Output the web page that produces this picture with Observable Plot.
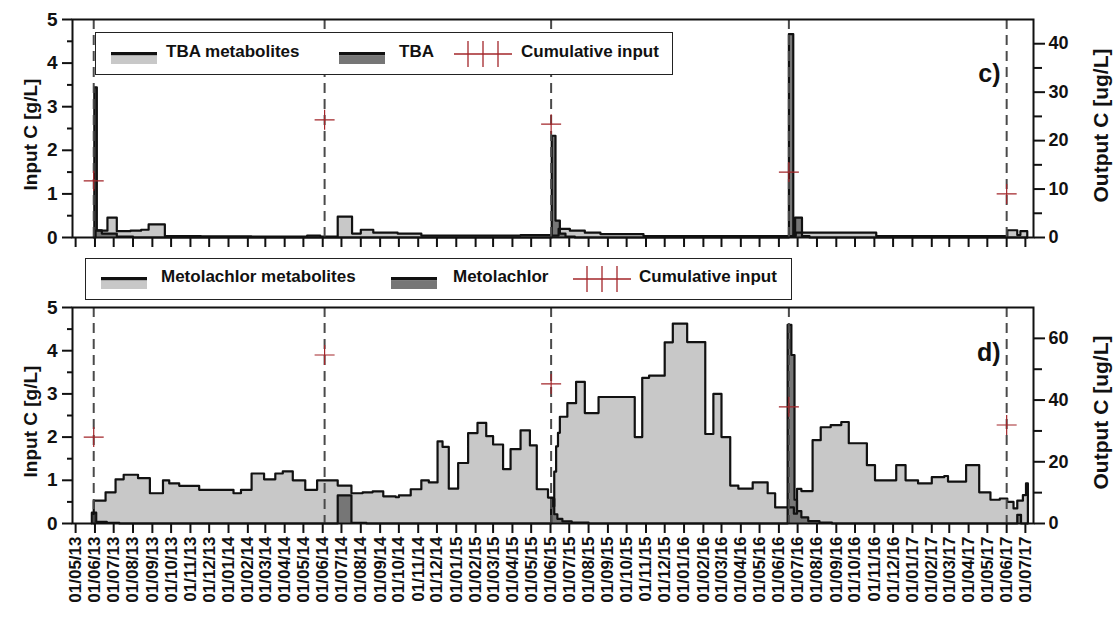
<!DOCTYPE html>
<html><head><meta charset="utf-8">
<script src="https://cdn.jsdelivr.net/npm/d3@7"></script>
<script src="https://cdn.jsdelivr.net/npm/@observablehq/plot@0.6"></script>
<style>
body{margin:0;background:#fff;font-family:"Liberation Sans",Arial,sans-serif;}
#wrap{position:relative;width:1114px;height:620px;overflow:hidden;}
#top,#bottom{position:absolute;left:0;}
#top{top:0}
#bottom{top:255px}
.legend{position:absolute;border:1.5px solid #222;background:#fff;box-sizing:border-box;font-weight:bold;font-size:17px;color:#111;z-index:5}
.legend .it{position:absolute;white-space:nowrap;line-height:1}
</style></head>
<body><div id="wrap"><div id="top"></div><div id="bottom"></div></div>
<script>
// ---------- data ----------
const xDomain = ["2013-04-26", "2017-07-14"];
const applicationDates = ["2013-05-30", "2014-06-04", "2015-06-02", "2016-06-17", "2017-06-01"];
const tbaCumInput = [1.3, 2.7, 2.6, 1.5, 1.0];          // g/L
const metCumInput = [2.0, 3.9, 3.23, 2.7, 2.28];        // g/L

// TBA metabolites, ug/L (step values starting at each date)
const tbaMetDates = ["2013-06-02","2013-06-21","2013-07-06","2013-07-28","2013-08-14","2013-08-26","2013-09-21","2013-11-18","2014-02-07","2014-05-07","2014-05-28","2014-06-25","2014-07-18","2014-08-01","2014-08-21","2014-09-29","2014-11-06","2015-04-14","2015-06-02","2015-06-14","2015-07-02","2015-07-26","2015-08-20","2015-10-28","2016-06-17","2016-06-28","2016-11-04","2017-06-02","2017-06-18","2017-06-23","2017-07-04"];
const tbaMetValues = [1.4,4.1,1.3,1.4,1.6,2.7,0.3,0.25,0.2,0.4,0.2,4.3,0.8,1.6,1.0,0.8,0.4,0.5,0.4,1.8,1.4,1.0,0.7,0.3,0.3,1.0,0.3,1.5,0.5,1.3,1.3];

// TBA parent, ug/L
const tbaParDates = ["2013-05-30","2013-05-31","2013-06-04","2013-06-12","2013-07-06","2013-08-01","2015-06-02","2015-06-03","2015-06-09","2015-06-16","2015-06-25","2015-07-10","2016-06-16","2016-06-17","2016-06-24","2016-06-27","2016-07-08","2016-07-20","2017-06-01","2017-07-04"];
const tbaParValues = [0,31,1.5,0.8,0.2,0,0,21,3.5,0.8,0.2,0,0,42,0.5,4.1,0.3,0,0,0];

// Metolachlor metabolites, ug/L
const metMetDates = ["2013-05-30","2013-06-18","2013-07-04","2013-07-17","2013-08-09","2013-08-28","2013-09-18","2013-09-28","2013-10-14","2013-11-15","2014-01-09","2014-01-21","2014-02-07","2014-02-27","2014-03-17","2014-03-29","2014-04-14","2014-05-04","2014-05-23","2014-06-25","2014-07-17","2014-08-04","2014-08-20","2014-09-06","2014-09-26","2014-10-01","2014-10-20","2014-11-06","2014-11-18","2014-12-02","2014-12-10","2014-12-20","2015-01-04","2015-01-20","2015-02-04","2015-02-18","2015-03-01","2015-03-17","2015-03-29","2015-04-14","2015-04-29","2015-05-10","2015-05-28","2015-06-04","2015-06-07","2015-06-10","2015-06-13","2015-06-16","2015-06-28","2015-07-12","2015-07-26","2015-08-17","2015-10-14","2015-10-26","2015-11-06","2015-12-01","2015-12-14","2016-01-06","2016-02-04","2016-02-17","2016-03-01","2016-03-15","2016-03-28","2016-04-20","2016-05-14","2016-05-26","2016-06-25","2016-06-30","2016-07-07","2016-07-25","2016-08-07","2016-08-23","2016-09-09","2016-09-21","2016-10-20","2016-11-02","2016-12-06","2016-12-21","2017-01-10","2017-02-01","2017-02-21","2017-02-27","2017-03-28","2017-04-18","2017-05-06","2017-05-21","2017-06-02","2017-06-12","2017-06-18","2017-06-27","2017-07-02","2017-07-05"];
const metMetValues = [7.4,10.1,14.3,15.8,14.7,9.8,14,13,12.2,10.9,9.8,10.9,16.2,14.3,16.2,16.9,14,10.9,14,12.3,9.8,10.1,10.4,8.8,8.5,9.1,11.1,14,13.3,26.6,24.8,11.3,19.6,29.3,32.6,28.3,25.6,17.6,24.1,30.2,25.3,11.1,8.4,5.6,16.8,25,29.4,34.6,39,45.9,35.8,41,28,47.2,47.9,58.7,64.8,58.8,29,42,28,12.3,11.3,13.3,9.8,5.2,3.2,11.2,10.5,27,31.2,31.9,32.9,26,18.9,14,18.9,14,13,15,15.4,13.6,18.9,10.1,7.7,8.1,7,4.9,7.4,9.2,13,13];

// Metolachlor parent, ug/L
const metParDates = ["2013-05-27","2013-06-03","2013-06-20","2013-07-10","2014-06-25","2014-07-17","2014-08-10","2015-06-02","2015-06-07","2015-06-12","2015-06-20","2015-07-05","2015-08-01","2016-06-15","2016-06-21","2016-06-26","2016-06-30","2016-07-07","2016-07-18","2016-08-05","2016-08-25","2017-06-18","2017-06-24","2017-07-04"];
const metParValues = [3.5,0.5,0.2,0,9.1,0.2,0,8,3,1.5,0.7,0.3,0,64.4,54.6,7.7,4,2,0.8,0.3,0,2.8,0,0];

const leftTicks = [0, 1, 2, 3, 4, 5];
const leftMinor = [0.5, 1.5, 2.5, 3.5, 4.5];
const topRightTicks = [0, 10, 20, 30, 40];
const topRightMinor = [5, 15, 25, 35];
const botRightTicks = [0, 20, 40, 60];
const botRightMinor = [10, 30, 50];
const TOP_K = 9;   // 45 ug/L on the right = 5 g/L on the left
const BOT_K = 14;  // 70 ug/L on the right = 5 g/L on the left

// ---------- helpers ----------
const toDate = s => new Date(s + "T00:00:00Z");
function series(dates, values) {
  const s = dates.map((d, i) => ({date: toDate(d), v: values[i]}));
  return [{date: s[0].date, v: 0}, ...s, {date: s[s.length - 1].date, v: 0}];
}
const monthTicks = d3.utcMonth.range(toDate("2013-05-01"), toDate("2017-07-02"));
const cross = {draw(ctx, size) { const r = Math.sqrt(size / Math.PI); ctx.moveTo(-r, 0); ctx.lineTo(r, 0); ctx.moveTo(0, -r); ctx.lineTo(0, r); }};
const FONT = "'Liberation Sans', Arial, sans-serif";
const MET_FILL = "#c8c8c8", PAR_FILL = "#767676", RED = "#a3262a";

function panel({met, par, K, cum, rightTicks, rightMinor, height, marginTop, marginBottom, showLabels, tag, tagDy}) {
  const app = applicationDates.map(toDate);
  const cumData = app.map((d, i) => ({date: d, v: cum[i]}));
  return Plot.plot({
    width: 1114, height, marginLeft: 72, marginRight: 81, marginTop, marginBottom,
    style: {fontFamily: FONT, fontWeight: "bold", color: "#111", background: "transparent"},
    x: {type: "utc", domain: xDomain.map(toDate)},
    y: {domain: [0, 5]},
    marks: [
      Plot.areaY(met, {x: "date", y: d => d.v / K, curve: "step-after", fill: MET_FILL}),
      Plot.areaY(par, {x: "date", y: d => d.v / K, curve: "step-after", fill: PAR_FILL}),
      Plot.lineY(met, {x: "date", y: d => d.v / K, curve: "step-after", stroke: "#111", strokeWidth: 2.2}),
      Plot.lineY(par, {x: "date", y: d => d.v / K, curve: "step-after", stroke: "#111", strokeWidth: 2.2}),
      Plot.ruleX(app, {stroke: "#4a4a4a", strokeWidth: 2, strokeDasharray: "10,6"}),
      Plot.dot(cumData, {x: "date", y: "v", symbol: cross, r: 10, stroke: RED, strokeWidth: 1.2, fill: "none"}),
      Plot.frame({stroke: "#111", strokeWidth: 2}),
      Plot.axisY({anchor: "left", ticks: leftTicks, tickFormat: d => String(d), tickSize: 10, tickPadding: 5, strokeWidth: 2, fontSize: 19, fontWeight: "bold", label: null}),
      Plot.axisY({anchor: "left", ticks: leftMinor, tickSize: 5, strokeWidth: 2, tickFormat: () => "", label: null}),
      Plot.axisY({anchor: "right", ticks: rightTicks.map(v => v / K), tickFormat: d => String(Math.round(d * K)), tickSize: 11, tickPadding: 4, strokeWidth: 2, fontSize: 18, fontWeight: "bold", label: null}),
      Plot.axisY({anchor: "right", ticks: rightMinor.map(v => v / K), tickFormat: () => "", tickSize: 8, strokeWidth: 2, label: null}),
      showLabels
        ? Plot.axisX({ticks: monthTicks, tickSize: 10, strokeWidth: 2, tickRotate: -90, tickPadding: 3, tickFormat: d3.utcFormat("%d/%m/%y"), fontSize: 17, fontWeight: "bold", label: null})
        : Plot.axisX({ticks: monthTicks, tickSize: 10, strokeWidth: 2, tickFormat: () => "", label: null}),
      Plot.text(["Input C [g/L]"], {frameAnchor: "left", text: d => d, textAnchor: "middle", rotate: -90, dx: -42, dy: 6, fontSize: 19, fontWeight: "bold"}),
      Plot.text(["Output C [ug/L]"], {frameAnchor: "right", text: d => d, textAnchor: "middle", rotate: -90, dx: 68, dy: -3, fontSize: 21, fontWeight: "bold"}),
      Plot.text([tag], {frameAnchor: "top-right", text: d => d, textAnchor: "end", lineAnchor: "middle", dx: -33, dy: tagDy, fontSize: 25, fontWeight: "bold"})
    ]
  });
}

document.getElementById("top").append(panel({
  met: series(tbaMetDates, tbaMetValues), par: series(tbaParDates, tbaParValues), K: TOP_K, cum: tbaCumInput,
  rightTicks: topRightTicks, rightMinor: topRightMinor, height: 255, marginTop: 19, marginBottom: 18,
  showLabels: false, tag: "c)", tagDy: 54
}));
document.getElementById("bottom").append(panel({
  met: series(metMetDates, metMetValues), par: series(metParDates, metParValues), K: BOT_K, cum: metCumInput,
  rightTicks: botRightTicks, rightMinor: botRightMinor, height: 365, marginTop: 52, marginBottom: 97,
  showLabels: true, tag: "d)", tagDy: 45
}));

// ---------- legends ----------
const legendTop = {box: [95, 32, 578, 43], labels: ["TBA metabolites", "TBA", "Cumulative input"], pos: [15, 70, 243, 303, 358, 425]};
const legendBot = {box: [85, 258, 707, 42], labels: ["Metolachlor metabolites", "Metolachlor", "Cumulative input"], pos: [15, 75, 305, 367, 487, 553]};
function swatch(fill) {
  return `<svg width="46" height="12"><rect x="0" y="0" width="46" height="3.5" fill="#111"/><rect x="0" y="3.5" width="46" height="8.5" fill="${fill}"/></svg>`;
}
function crossSwatch() {
  return `<svg width="58" height="26"><line x1="0" y1="13" x2="58" y2="13" stroke="${RED}" stroke-width="1.3"/>` +
    [14, 29, 44].map(x => `<line x1="${x}" y1="0" x2="${x}" y2="26" stroke="${RED}" stroke-width="1.3"/>`).join("") + `</svg>`;
}
function legend(cfg) {
  const [l, t, w, h] = cfg.box;
  const div = document.createElement("div");
  div.className = "legend";
  Object.assign(div.style, {left: l + "px", top: t + "px", width: w + "px", height: h + "px"});
  const p = cfg.pos;
  const mid = h / 2;
  div.innerHTML =
    `<div class="it" style="left:${p[0]}px;top:${mid - 5}px">${swatch(MET_FILL)}</div>` +
    `<div class="it" style="left:${p[1]}px;top:${mid - 12}px">${cfg.labels[0]}</div>` +
    `<div class="it" style="left:${p[2]}px;top:${mid - 5}px">${swatch(PAR_FILL)}</div>` +
    `<div class="it" style="left:${p[3]}px;top:${mid - 12}px">${cfg.labels[1]}</div>` +
    `<div class="it" style="left:${p[4]}px;top:${mid - 14}px">${crossSwatch()}</div>` +
    `<div class="it" style="left:${p[5]}px;top:${mid - 12}px">${cfg.labels[2]}</div>`;
  document.getElementById("wrap").append(div);
}
legend(legendTop);
legend(legendBot);
</script>
</body></html>
